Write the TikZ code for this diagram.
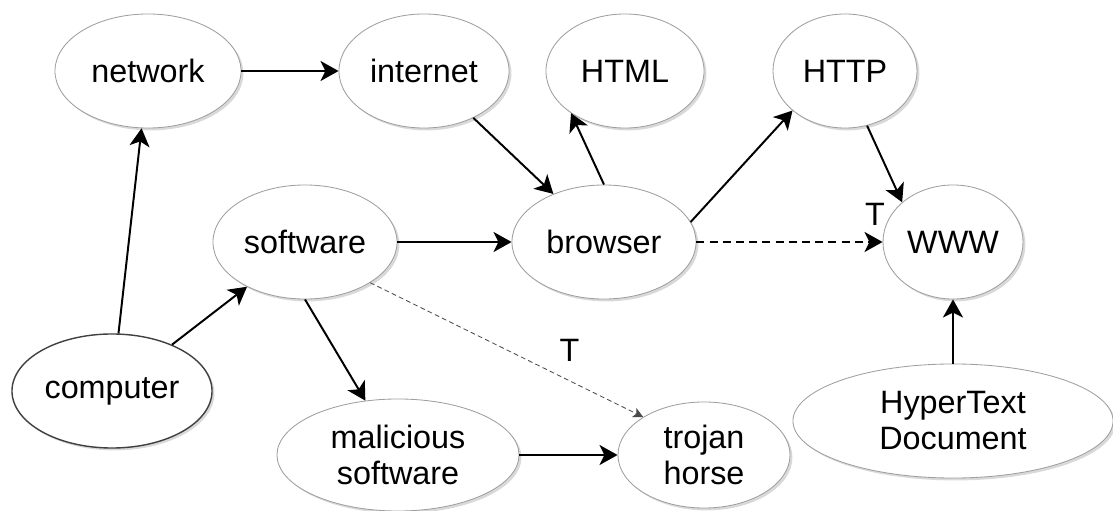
\documentclass[tikz,border=0pt]{standalone}
\usepackage{fontspec}
\setmainfont{Liberation Sans}
\usetikzlibrary{shapes.geometric, arrows.meta, shadows}

\begin{document}
\begin{tikzpicture}[x=0.025cm, y=-0.025cm,
	bubble/.style={ellipse, draw=gray!75, line width=0.6pt, fill=white, inner sep=0pt, align=center,
		minimum height=2.85cm, font=\fontsize{23}{25.6}\selectfont,
		drop shadow={shadow xshift=0.06cm, shadow yshift=-0.06cm, opacity=0.3, fill=gray}},
	link/.style={line width=1.4pt, -{Stealth[length=0.45cm, width=0.5cm, inset=0.12cm]}},
	tlink/.style={link, dash pattern=on 0.2cm off 0.13cm},
	weaklink/.style={line width=0.6pt, draw=gray!60!black, dash pattern=on 0.12cm off 0.08cm,
		-{Stealth[length=0.25cm, width=0.25cm, inset=0.06cm]}},
	tlabel/.style={inner sep=0pt, font=\fontsize{23}{25.6}\selectfont}]
		\useasboundingbox (0,0) rectangle (1113,511);
		% top row
		\node[bubble, minimum width=4.65cm] at (148,71) (network) {network};
		\node[bubble, minimum width=4.25cm] at (424,71) (internet) {internet};
		\node[bubble, minimum width=3.95cm] at (625,71) (html) {HTML};
		\node[bubble, minimum width=3.6cm] at (845,71) (http) {HTTP};
		% middle row
		\node[bubble, minimum width=4.6cm] at (305,242) (software) {software};
		\node[bubble, minimum width=4.6cm] at (604,242) (browser) {browser};
		\node[bubble, minimum width=3.5cm] at (953,242) (www) {WWW};
		% bottom row
		\node[bubble, minimum width=5cm, draw=black!75, line width=1pt] at (112,391) (computer) {computer};
		\node[bubble, minimum width=6.05cm, minimum height=2.8cm] at (398,455) (malicious) {malicious\\software};
		\node[bubble, minimum width=4.3cm, minimum height=2.65cm] at (704,455) (trojan) {trojan\\horse};
		\node[bubble, minimum width=8cm] at (953,421) (hyper) {HyperText\\Document};
		% connectors
		\draw[link] (network) -- (internet);
		\draw[link] (computer) -- (network);
		\draw[link] (computer) -- (software);
		\draw[link] (software) -- (browser);
		\draw[link] (internet) -- (browser);
		\draw[link] (browser.north) -- (html.218);
		\draw[link] (browser.13) -- (http.217);
		\draw[link] (http.292) -- (www.142);
		\draw[link] (software.south) -- (malicious.121);
		\draw[link] (malicious) -- (trojan);
		\draw[link] (hyper) -- (www);
		\draw[tlink] (browser) -- node[tlabel, pos=0.96, above=0.39cm] {T} (www);
		\draw[weaklink] (software.328) -- node[tlabel, pos=0.73, above=0.46cm] {T} (trojan.148);
\end{tikzpicture}
\end{document}
